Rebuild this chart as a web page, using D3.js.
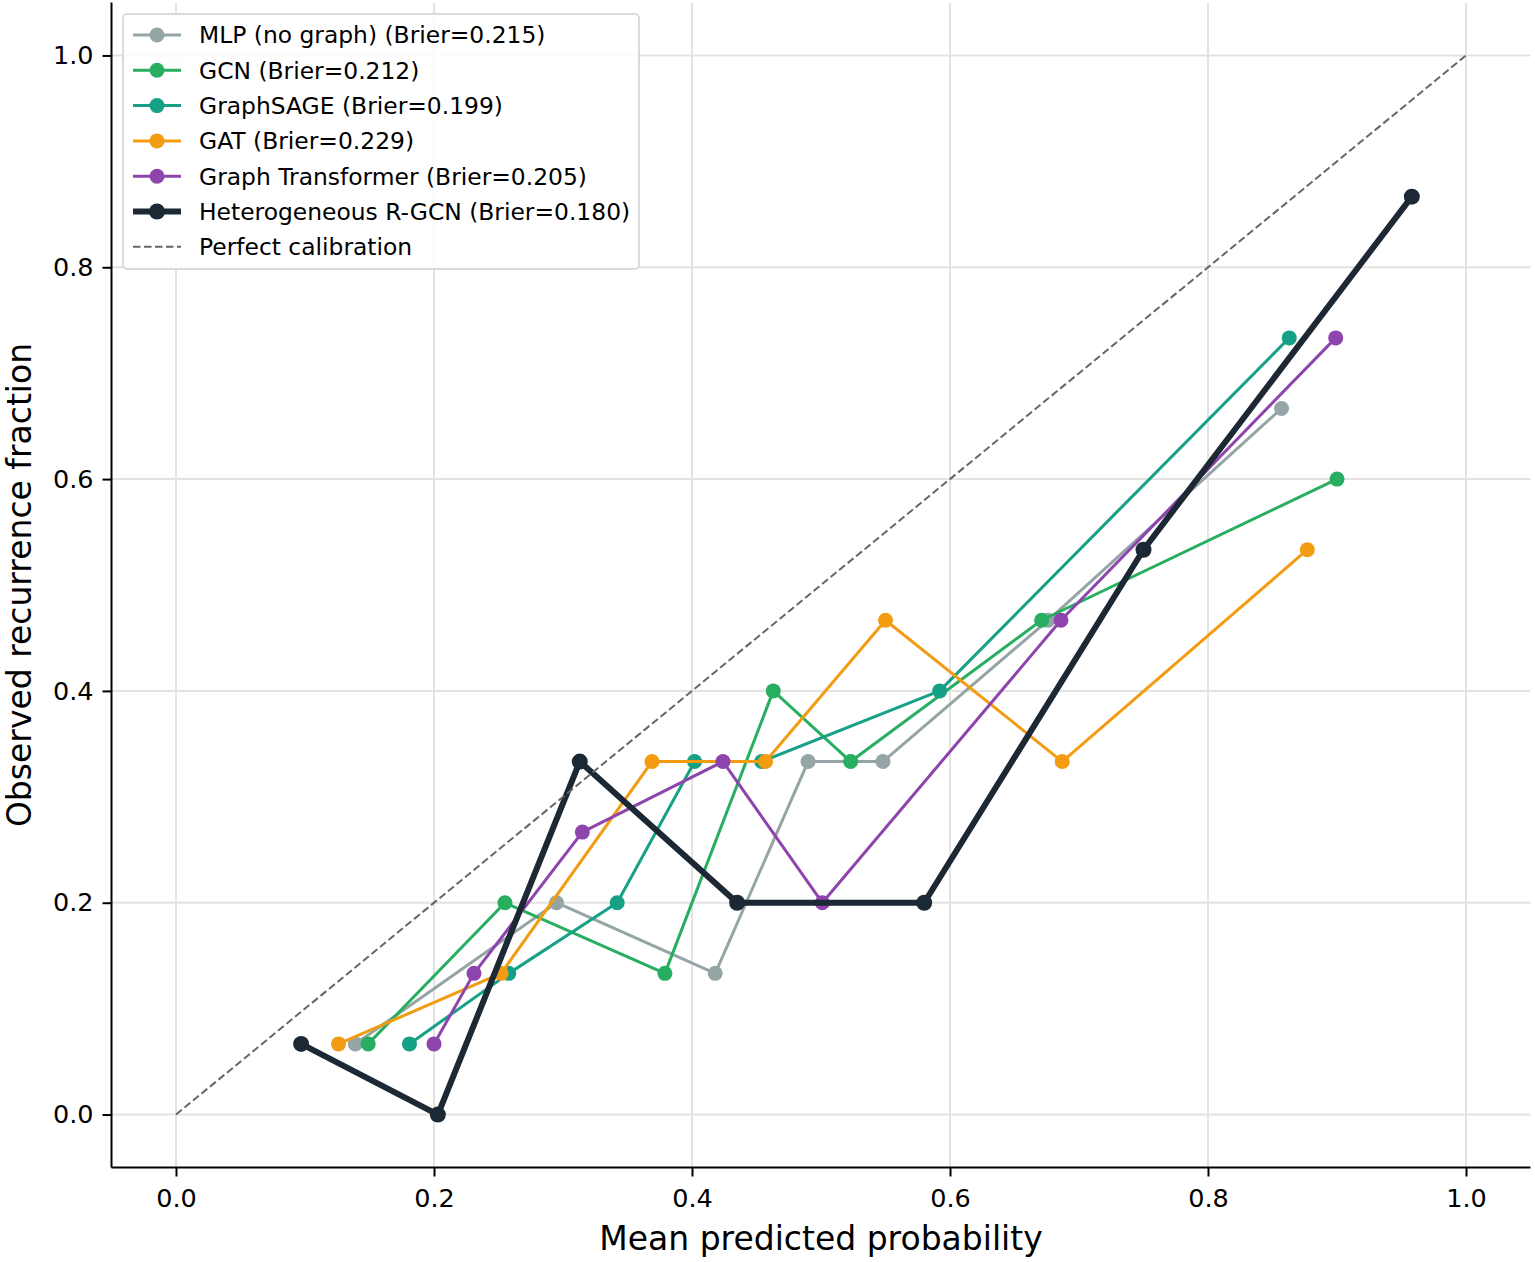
<!DOCTYPE html>
<html>
<head>
<meta charset="utf-8">
<script src="https://cdn.jsdelivr.net/npm/d3@7"></script>
<style>
  html, body { margin: 0; padding: 0; background: #fff; }
  svg { display: block; font-family: "DejaVu Sans", sans-serif; }
</style>
</head>
<body>
<svg id="chart" width="1535" height="1262"></svg>
<script>
// ---- data ----
const seriesNames = [
  "MLP (no graph) (Brier=0.215)",
  "GCN (Brier=0.212)",
  "GraphSAGE (Brier=0.199)",
  "GAT (Brier=0.229)",
  "Graph Transformer (Brier=0.205)",
  "Heterogeneous R-GCN (Brier=0.180)"
];
const mlpX = [0.139, 0.295, 0.418, 0.490, 0.548, 0.676, 0.857];
const mlpY = [0.0667, 0.2, 0.1333, 0.3333, 0.3333, 0.4667, 0.6667];
const gcnX = [0.149, 0.255, 0.379, 0.463, 0.523, 0.671, 0.900];
const gcnY = [0.0667, 0.2, 0.1333, 0.4, 0.3333, 0.4667, 0.6];
const sageX = [0.181, 0.258, 0.342, 0.402, 0.454, 0.592, 0.863];
const sageY = [0.0667, 0.1333, 0.2, 0.3333, 0.3333, 0.4, 0.7333];
const gatX = [0.126, 0.252, 0.369, 0.457, 0.550, 0.687, 0.877];
const gatY = [0.0667, 0.1333, 0.3333, 0.3333, 0.4667, 0.3333, 0.5333];
const gtX = [0.200, 0.231, 0.315, 0.424, 0.501, 0.686, 0.899];
const gtY = [0.0667, 0.1333, 0.2667, 0.3333, 0.2, 0.4667, 0.7333];
const rgcnX = [0.097, 0.203, 0.313, 0.435, 0.580, 0.750, 0.958];
const rgcnY = [0.0667, 0.0, 0.3333, 0.2, 0.2, 0.5333, 0.8667];
const perfectX = [0, 1];
const perfectY = [0, 1];
const perfectLabel = "Perfect calibration";
const xTicks = [0.0, 0.2, 0.4, 0.6, 0.8, 1.0];
const yTicks = [0.0, 0.2, 0.4, 0.6, 0.8, 1.0];
const xLabel = "Mean predicted probability";
const yLabel = "Observed recurrence fraction";

const colors = ["#95a5a6", "#27ae60", "#16a085", "#f39c12", "#8e44ad", "#1c2833"];
const seriesX = [mlpX, gcnX, sageX, gatX, gtX, rgcnX];
const seriesY = [mlpY, gcnY, sageY, gatY, gtY, rgcnY];

// ---- layout ----
const svg = d3.select("#chart");
const x = d3.scaleLinear().domain([-0.05, 1.05]).range([111.5, 1530.5]);
const y = d3.scaleLinear().domain([-0.05, 1.05]).range([1167.5, 2.5]);
const [x0, x1] = x.range();
const [yb, yt] = y.range();

// grid
const grid = svg.append("g");
grid.selectAll(".vg").data(xTicks).enter().append("line")
  .attr("x1", d => x(d)).attr("x2", d => x(d))
  .attr("y1", yb).attr("y2", yt)
  .attr("stroke", "#e3e3e3").attr("stroke-width", 2);
grid.selectAll(".hg").data(yTicks).enter().append("line")
  .attr("x1", x0).attr("x2", x1)
  .attr("y1", d => y(d)).attr("y2", d => y(d))
  .attr("stroke", "#e3e3e3").attr("stroke-width", 2);

// axes
const xAxis = d3.axisBottom(x).tickValues(xTicks).tickFormat(d3.format(".1f"))
  .tickSize(9).tickPadding(12);
const yAxis = d3.axisLeft(y).tickValues(yTicks).tickFormat(d3.format(".1f"))
  .tickSize(9).tickPadding(9);
const gx = svg.append("g").attr("transform", `translate(0,${yb})`).call(xAxis);
const gy = svg.append("g").attr("transform", `translate(${x0},0)`).call(yAxis);
[gx, gy].forEach(g => {
  g.select(".domain").attr("stroke", "#000").attr("stroke-width", 2);
  g.selectAll(".tick line").attr("stroke", "#000").attr("stroke-width", 2);
  g.selectAll(".tick text").attr("font-size", 25.5)
    .attr("font-family", "DejaVu Sans").attr("fill", "#000");
});
gx.select(".domain").attr("d", `M${x0},0H${x1}`);
gy.select(".domain").attr("d", `M0,${yb}V${yt}`);

// axis labels
svg.append("text").attr("x", (x0 + x1) / 2).attr("y", 1250)
  .attr("text-anchor", "middle").attr("font-size", 33).attr("fill", "#000")
  .text(xLabel);
svg.append("text")
  .attr("transform", `translate(31,${(yb + yt) / 2}) rotate(-90)`)
  .attr("text-anchor", "middle").attr("font-size", 33).attr("fill", "#000")
  .text(yLabel);

// series
const line = d3.line().x(d => x(d[0])).y(d => y(d[1]));
seriesX.forEach((xs, i) => {
  const pts = xs.map((v, j) => [v, seriesY[i][j]]);
  const heavy = i === 5;
  const g = svg.append("g");
  g.append("path").datum(pts).attr("d", line)
    .attr("fill", "none").attr("stroke", colors[i])
    .attr("stroke-width", heavy ? 6 : 3)
    .attr("stroke-linejoin", "round");
  g.selectAll("circle").data(pts).enter().append("circle")
    .attr("cx", d => x(d[0])).attr("cy", d => y(d[1]))
    .attr("r", heavy ? 8 : 7.5).attr("fill", colors[i]);
});

// perfect calibration
svg.append("path").datum(perfectX.map((v, j) => [v, perfectY[j]])).attr("d", line)
  .attr("fill", "none").attr("stroke", "#666").attr("stroke-width", 2)
  .attr("stroke-dasharray", "7.5,3.5");

// legend
const lg = svg.append("g");
lg.append("rect").attr("x", 123).attr("y", 14).attr("width", 516).attr("height", 255)
  .attr("rx", 4).attr("fill", "#fff").attr("fill-opacity", 0.85)
  .attr("stroke", "#d0d0d0").attr("stroke-width", 1.5);
const rowY = i => 35 + i * 35.3;
seriesNames.forEach((name, i) => {
  const heavy = i === 5;
  lg.append("line").attr("x1", 133).attr("x2", 181).attr("y1", rowY(i)).attr("y2", rowY(i))
    .attr("stroke", colors[i]).attr("stroke-width", heavy ? 6 : 3);
  lg.append("circle").attr("cx", 157).attr("cy", rowY(i)).attr("r", heavy ? 8 : 7.5)
    .attr("fill", colors[i]);
  lg.append("text").attr("x", 199).attr("y", rowY(i)).attr("dy", "0.36em")
    .attr("font-size", 23.4).attr("fill", "#000").text(name);
});
lg.append("line").attr("x1", 133).attr("x2", 181).attr("y1", rowY(6)).attr("y2", rowY(6))
  .attr("stroke", "#666").attr("stroke-width", 2).attr("stroke-dasharray", "7.5,3.5");
lg.append("text").attr("x", 199).attr("y", rowY(6)).attr("dy", "0.36em")
  .attr("font-size", 23.4).attr("fill", "#000").text(perfectLabel);
</script>
</body>
</html>
